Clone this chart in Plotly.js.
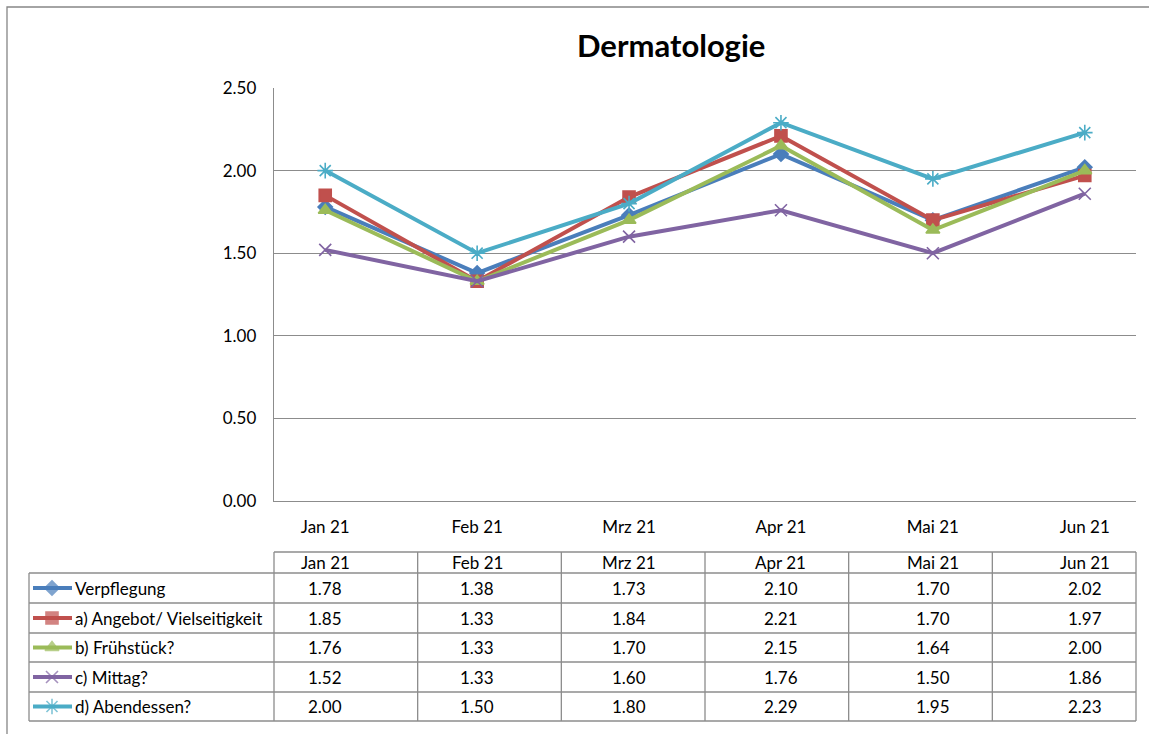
<!DOCTYPE html>
<html><head><meta charset="utf-8">
<script src="https://cdn.plot.ly/plotly-3.0.1.min.js"></script>
<style>html,body{margin:0;padding:0;background:#fff}</style></head>
<body>
<div id="chart" style="width:1149px;height:734px"></div>
<script>
const months = ['Jan 21','Feb 21','Mrz 21','Apr 21','Mai 21','Jun 21'];
const seriesNames = ['Verpflegung','a) Angebot/ Vielseitigkeit','b) Frühstück?','c) Mittag?','d) Abendessen?'];
const verpflegung = [1.78,1.38,1.73,2.10,1.70,2.02];
const angebot = [1.85,1.33,1.84,2.21,1.70,1.97];
const fruehstueck = [1.76,1.33,1.70,2.15,1.64,2.00];
const mittag = [1.52,1.33,1.60,1.76,1.50,1.86];
const abendessen = [2.00,1.50,1.80,2.29,1.95,2.23];
const yTicks = [0,0.5,1.0,1.5,2.0,2.5];

const seriesValues = [verpflegung, angebot, fruehstueck, mittag, abendessen];
const colors = ['#4A7EBB','#C0504D','#9BBB59','#8064A2','#4BACC6'];
const symbols = ['diamond','square','triangle-up','x-thin-open','asterisk-open'];
const msizes = [11,12,12,12,13];

const W = 1149, H = 734;
const px = x => x / W, py = y => 1 - y / H;
const plotL = 274, plotR = 1136, plotT = 88, plotB = 501;
const FONT = 'Lato, Carlito, "Noto Sans", sans-serif';
const FS = 17;
const grid = '#8C8C8C';

const traces = [];
seriesValues.forEach((vals, i) => {
  traces.push({
    x: months, y: vals, name: seriesNames[i], type: 'scatter', mode: 'lines+markers',
    line: {color: colors[i], width: 4},
    marker: {symbol: symbols[i], size: msizes[i], color: colors[i], line: {color: colors[i], width: 1.6}},
    cliponaxis: false, showlegend: false, hoverinfo: 'x+y+name'
  });
});

// table geometry
const rowTops = [573, 603, 633, 662, 692];
const rowBot = 721;
const headTop = 552;
const tableL = 29;
const colW = (plotR - plotL) / months.length;

// legend symbols in table (on helper pixel axes)
seriesNames.forEach((n, i) => {
  const yc = (rowTops[i] + (i < 4 ? rowTops[i+1] : rowBot)) / 2;
  traces.push({
    x: [33, 52, 72], y: [yc, yc, yc], xaxis: 'x2', yaxis: 'y2', type: 'scatter', mode: 'lines+markers',
    line: {color: colors[i], width: 4},
    marker: {symbol: symbols[i], size: [0, msizes[i], 0], color: colors[i], line: {color: colors[i], width: 1.6}},
    showlegend: false, hoverinfo: 'skip', cliponaxis: false
  });
});

const shapes = [];
const lineStyle = {color: '#8C8C8C', width: 1.3};
// outer border
shapes.push({type: 'rect', xref: 'paper', yref: 'paper', x0: px(7), x1: px(1170), y0: py(7), y1: py(760), line: {color: '#868686', width: 1.3}});
// header row
shapes.push({type: 'line', xref: 'paper', yref: 'paper', x0: px(plotL), x1: px(plotR), y0: py(headTop), y1: py(headTop), line: lineStyle});
[...rowTops, rowBot].forEach(y => {
  shapes.push({type: 'line', xref: 'paper', yref: 'paper', x0: px(tableL), x1: px(plotR), y0: py(y), y1: py(y), line: lineStyle});
});
for (let k = 0; k <= months.length; k++) {
  const x = plotL + k * colW;
  shapes.push({type: 'line', xref: 'paper', yref: 'paper', x0: px(x), x1: px(x), y0: py(headTop), y1: py(rowBot), line: lineStyle});
}
shapes.push({type: 'line', xref: 'paper', yref: 'paper', x0: px(tableL), x1: px(tableL), y0: py(rowTops[0]), y1: py(rowBot), line: lineStyle});

const annotations = [];
annotations.push({text: '<b>Dermatologie</b>', xref: 'paper', yref: 'paper', x: px(671), y: py(45), xanchor: 'center', yanchor: 'middle', showarrow: false, font: {family: FONT, size: 31, color: '#000'}});
months.forEach(m => {
  annotations.push({text: m, xref: 'x', yref: 'paper', x: m, y: py((headTop + rowTops[0]) / 2), xanchor: 'center', yanchor: 'middle', showarrow: false, font: {family: FONT, size: FS, color: '#000'}});
});
seriesValues.forEach((vals, i) => {
  const yc = (rowTops[i] + (i < 4 ? rowTops[i+1] : rowBot)) / 2;
  annotations.push({text: seriesNames[i], xref: 'paper', yref: 'paper', x: px(73), y: py(yc), xanchor: 'left', yanchor: 'middle', showarrow: false, font: {family: FONT, size: FS, color: '#000'}});
  vals.forEach((v, j) => {
    annotations.push({text: v.toFixed(2), xref: 'x', yref: 'paper', x: months[j], y: py(yc), xanchor: 'center', yanchor: 'middle', showarrow: false, font: {family: FONT, size: FS, color: '#000'}});
  });
});

const layout = {
  width: W, height: H,
  margin: {l: 0, r: 0, t: 0, b: 0, pad: 0},
  paper_bgcolor: '#fff', plot_bgcolor: 'rgba(0,0,0,0)',
  showlegend: false,
  font: {family: FONT, size: FS, color: '#000'},
  xaxis: {
    domain: [px(plotL), px(plotR)], anchor: 'y', type: 'category',
    showgrid: false, showline: true, linecolor: grid, linewidth: 1.3,
    ticks: '', ticklabelstandoff: 10, tickfont: {family: FONT, size: FS, color: '#000'},
    fixedrange: true
  },
  yaxis: {
    domain: [py(plotB), py(plotT)], anchor: 'x', range: [0, 2.5],
    tickvals: yTicks, ticktext: yTicks.map(v => v.toFixed(2)),
    showgrid: true, gridcolor: grid, gridwidth: 1.3, zeroline: false,
    showline: true, linecolor: grid, linewidth: 1.3,
    ticks: '', ticklabelstandoff: 13, tickfont: {family: FONT, size: FS, color: '#000'},
    fixedrange: true
  },
  xaxis2: {domain: [0, 1], anchor: 'y2', range: [0, W], visible: false, fixedrange: true},
  yaxis2: {domain: [0, 1], anchor: 'x2', range: [H, 0], visible: false, fixedrange: true},
  shapes: shapes,
  annotations: annotations
};

Plotly.newPlot('chart', traces, layout, {displayModeBar: false, staticPlot: true});
</script>
</body></html>
